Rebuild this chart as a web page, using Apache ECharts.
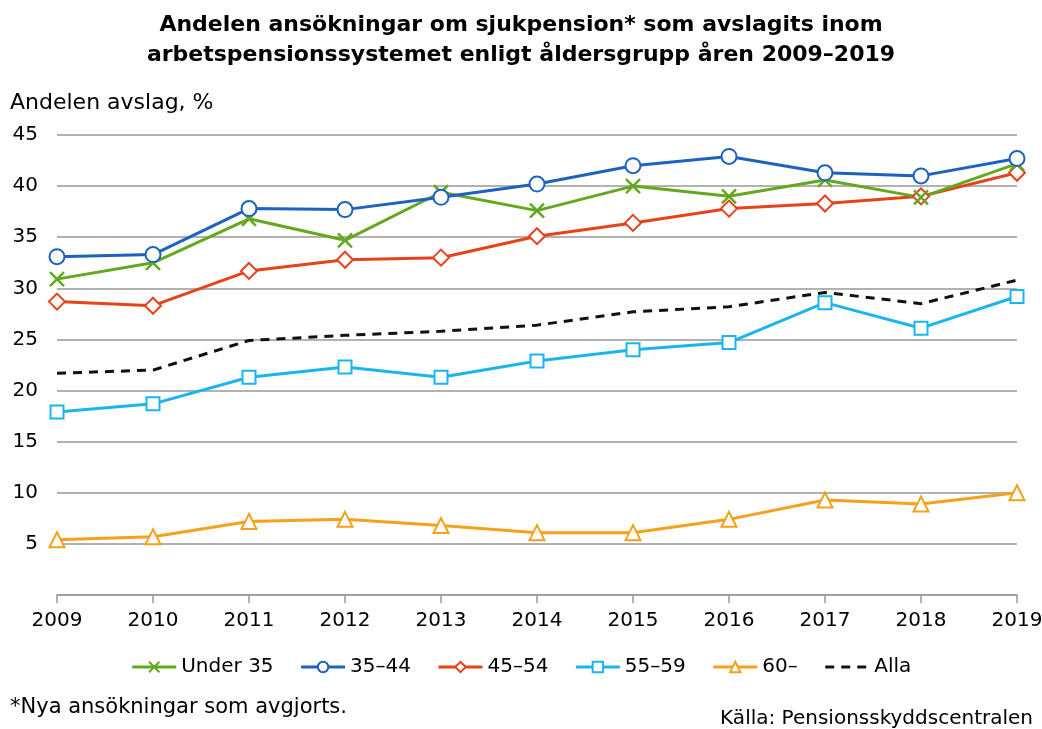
<!DOCTYPE html>
<html><head><meta charset="utf-8">
<script src="https://cdn.jsdelivr.net/npm/echarts@6/dist/echarts.min.js"></script>
<style>html,body{margin:0;padding:0;background:#fff}#c{width:1042px;height:729px}</style>
</head><body><div id="c"></div>
<script>
const years = ['2009','2010','2011','2012','2013','2014','2015','2016','2017','2018','2019'];
const under35 = [30.9, 32.5, 36.8, 34.7, 39.4, 37.6, 40.0, 39.0, 40.6, 38.9, 42.2];
const age35_44 = [33.1, 33.3, 37.8, 37.7, 38.9, 40.2, 42.0, 42.9, 41.3, 41.0, 42.7];
const age45_54 = [28.7, 28.3, 31.7, 32.8, 33.0, 35.1, 36.4, 37.8, 38.3, 39.0, 41.3];
const age55_59 = [17.9, 18.7, 21.3, 22.3, 21.3, 22.9, 24.0, 24.7, 28.6, 26.1, 29.2];
const age60 = [5.4, 5.7, 7.2, 7.4, 6.8, 6.1, 6.1, 7.4, 9.3, 8.9, 10.0];
const alla = [21.7, 22.0, 24.9, 25.4, 25.8, 26.4, 27.7, 28.2, 29.6, 28.5, 30.8];
const seriesNames = ['Under 35','35–44','45–54','55–59','60–','Alla'];

const F = '"DejaVu Sans", Verdana, sans-serif';
const chart = echarts.init(document.getElementById('c'), null, {renderer:'canvas'});
function mk(name, data, color, symbol, size, extra){
  return Object.assign({
    name, type:'line', data, symbol, symbolSize:size, showSymbol:true,
    lineStyle:{color, width:3},
    itemStyle:{color:'#fff', borderColor:color, borderWidth:2},
    emphasis:{disabled:true}, z:3
  }, extra||{});
}
const legendData = seriesNames.map(n => n === 'Alla'
  ? {name:n, itemStyle:{color:'rgba(0,0,0,0)', borderColor:'rgba(0,0,0,0)', borderWidth:0}}
  : {name:n});
chart.setOption({
  animation:false,
  backgroundColor:'#fff',
  title:[
    {text:'Andelen ansökningar om sjukpension* som avslagits inom\narbetspensionssystemet enligt åldersgrupp åren 2009–2019',
     left:'center', top:5, textStyle:{fontFamily:F, fontWeight:'bold', fontSize:22, lineHeight:30, color:'#000'}},
    {text:'Andelen avslag, %', left:5, top:87, textStyle:{fontFamily:F, fontWeight:'normal', fontSize:22, color:'#000'}},
    {text:'*Nya ansökningar som avgjorts.', left:5, top:692, textStyle:{fontFamily:F, fontWeight:'normal', fontSize:21, color:'#000'}},
    {text:'Källa: Pensionsskyddscentralen', right:4, top:704, textStyle:{fontFamily:F, fontWeight:'normal', fontSize:20, color:'#000'}}
  ],
  grid:{left:57, right:25, top:135, bottom:134, containLabel:false, outerBoundsMode:'none'},
  legend:{
    data:legendData, top:652, left:'center', itemWidth:44, itemHeight:13, itemGap:26,
    lineStyle:{width:3},
    textStyle:{fontFamily:F, fontSize:20, color:'#000'}
  },
  xAxis:{
    type:'category', data:years, boundaryGap:false,
    axisLine:{lineStyle:{color:'#999', width:1.5}},
    axisTick:{show:true, length:8, lineStyle:{color:'#999', width:1.5}},
    axisLabel:{fontFamily:F, fontSize:20, color:'#000', margin:16}
  },
  yAxis:{
    type:'value', min:0, max:45, interval:5,
    axisLine:{show:false}, axisTick:{show:false},
    splitLine:{lineStyle:{color:'#999', width:1.5}},
    axisLabel:{fontFamily:F, fontSize:20, color:'#000', margin:19,
      formatter:v=> v===0 ? '' : String(v)}
  },
  series:[
    mk('Alla', alla, '#111', 'none', 0, {lineStyle:{color:'#111', width:3, type:[9,7]}, itemStyle:{color:'#111'}, z:2}),
    mk('60–', age60, '#f5a11c', 'triangle', 15),
    mk('55–59', age55_59, '#1bb5ee', 'rect', 13),
    mk('45–54', age45_54, '#e6421c', 'diamond', 16),
    mk('Under 35', under35, '#64a81f', 'path://M0,0L10,10M10,0L0,10', 14, {itemStyle:{color:'none', borderColor:'#64a81f', borderWidth:2.5}}),
    mk('35–44', age35_44, '#1d62bd', 'circle', 15)
  ]
});
</script>
</body></html>
